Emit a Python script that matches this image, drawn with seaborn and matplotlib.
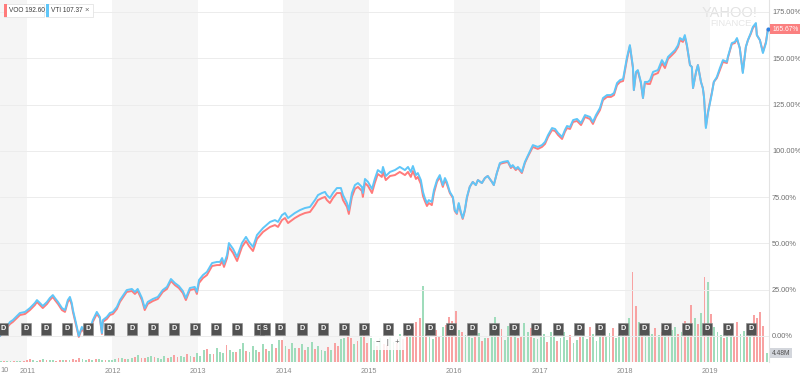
import datetime as dt

import matplotlib
matplotlib.use("Agg")
import matplotlib.pyplot as plt
import matplotlib.transforms as mtransforms
from matplotlib.patches import Rectangle
import pandas as pd
import seaborn as sns

# % change since Sep 2010 (VTI = blue, VOO = red)
price_dates = [
    "2010-09-07", "2010-10-20", "2010-11-01", "2010-12-01", "2010-12-23",
    "2011-01-13", "2011-02-03", "2011-02-12", "2011-02-25", "2011-03-09", "2011-03-27",
    "2011-04-08", "2011-04-21", "2011-04-30", "2011-05-13", "2011-05-30", "2011-06-12",
    "2011-06-24", "2011-07-03", "2011-07-11", "2011-07-16", "2011-07-29", "2011-08-10",
    "2011-08-23", "2011-09-01", "2011-09-14", "2011-09-26", "2011-10-09", "2011-10-26",
    "2011-11-08", "2011-11-17", "2011-11-21", "2011-12-08", "2011-12-21",
    "2012-01-03", "2012-01-20", "2012-02-02", "2012-03-02", "2012-03-24", "2012-04-06",
    "2012-04-18", "2012-05-06", "2012-05-18", "2012-05-31", "2012-06-22", "2012-07-13",
    "2012-08-03", "2012-08-21", "2012-09-07", "2012-09-24", "2012-10-11", "2012-10-28",
    "2012-11-10", "2012-11-27", "2012-12-18", "2012-12-27",
    "2013-01-05", "2013-01-22", "2013-02-08", "2013-03-02", "2013-03-23", "2013-04-05",
    "2013-04-14", "2013-04-22", "2013-05-05", "2013-05-13", "2013-05-31", "2013-06-17",
    "2013-07-08", "2013-07-25", "2013-08-07", "2013-08-24", "2013-09-10", "2013-10-06",
    "2013-11-05", "2013-11-26", "2013-12-09", "2013-12-26",
    "2014-01-08", "2014-01-21", "2014-02-07", "2014-02-19", "2014-03-13", "2014-04-03",
    "2014-04-25", "2014-05-16", "2014-05-29", "2014-06-15", "2014-06-28", "2014-07-06",
    "2014-07-19", "2014-08-01", "2014-08-18", "2014-09-04", "2014-09-13", "2014-09-30",
    "2014-10-08", "2014-10-21", "2014-11-03", "2014-11-16", "2014-12-03", "2014-12-07",
    "2014-12-16", "2014-12-29",
    "2015-01-15", "2015-01-27", "2015-02-09", "2015-02-26", "2015-03-03", "2015-03-15",
    "2015-04-02", "2015-04-23", "2015-05-14", "2015-06-05", "2015-06-18", "2015-06-30",
    "2015-07-09", "2015-07-22", "2015-07-30", "2015-08-12", "2015-08-21", "2015-08-29",
    "2015-09-07", "2015-09-15", "2015-09-28", "2015-10-07", "2015-10-20", "2015-11-01",
    "2015-11-14", "2015-11-23", "2015-12-01", "2015-12-14", "2015-12-27",
    "2016-01-04", "2016-01-13", "2016-01-21", "2016-01-30", "2016-02-07", "2016-02-16",
    "2016-02-25", "2016-03-08", "2016-03-21", "2016-04-03", "2016-04-12", "2016-04-29",
    "2016-05-12", "2016-05-24", "2016-06-11", "2016-06-19", "2016-07-02", "2016-07-15",
    "2016-07-28", "2016-08-18", "2016-08-31", "2016-09-08", "2016-09-21", "2016-09-30",
    "2016-10-17", "2016-10-30", "2016-11-11", "2016-12-03", "2016-12-24",
    "2017-01-11", "2017-01-24", "2017-02-06", "2017-02-23", "2017-03-08", "2017-03-21",
    "2017-04-07", "2017-04-19", "2017-04-28", "2017-05-11", "2017-05-24", "2017-06-10",
    "2017-06-27", "2017-07-14", "2017-08-04", "2017-08-17", "2017-08-30", "2017-09-16",
    "2017-09-29", "2017-10-16", "2017-11-02", "2017-11-15", "2017-11-28", "2017-12-11",
    "2017-12-24",
    "2018-01-02", "2018-01-09", "2018-01-22", "2018-02-04", "2018-02-08", "2018-02-17",
    "2018-02-25", "2018-03-10", "2018-03-19", "2018-03-27", "2018-04-09", "2018-04-18",
    "2018-05-01", "2018-05-22", "2018-06-08", "2018-06-21", "2018-07-04", "2018-07-21",
    "2018-08-03", "2018-08-16", "2018-08-24", "2018-09-06", "2018-09-14", "2018-09-23",
    "2018-10-06", "2018-10-14", "2018-10-19", "2018-11-01", "2018-11-09", "2018-11-22",
    "2018-11-30", "2018-12-05", "2018-12-13", "2018-12-22",
    "2019-01-08", "2019-01-16", "2019-01-29", "2019-02-11", "2019-02-24", "2019-03-13",
    "2019-03-17", "2019-04-03", "2019-04-16", "2019-04-25", "2019-05-07", "2019-05-20",
    "2019-06-02", "2019-06-11", "2019-06-23", "2019-07-02", "2019-07-15", "2019-07-19",
    "2019-08-01", "2019-08-14", "2019-08-27", "2019-09-04",
]

vti_pct = [
    0.0, 7.6, 8.6, 12.4, 13.0,
    15.1, 17.8, 19.4, 17.8, 16.2, 18.4, 20.5, 22.1, 20.5, 18.4, 15.1, 14.0,
    19.4, 21.1, 17.8, 14.0, 7.0, 0.0, 4.9, 3.2, 1.6, 3.2, 8.6, 13.0,
    10.3, 1.6, 8.6, 10.3, 12.4,
    13.0, 15.7, 19.4, 24.8, 25.4, 23.8, 25.4, 20.5, 15.1, 18.4, 20.0, 21.1,
    24.8, 26.5, 30.8, 28.6, 27.0, 24.3, 20.5, 25.9, 26.5, 23.8,
    30.2, 32.9, 34.6, 39.4, 40.0, 40.0, 42.1, 38.9, 43.7, 50.2, 47.0, 42.7,
    50.2, 53.5, 50.8, 48.1, 54.5, 58.3, 61.6, 62.6, 61.6, 65.3,
    66.4, 63.7, 65.3, 66.4, 68.0, 69.1, 69.7, 73.4, 76.1, 77.2, 77.8, 76.1,
    74.5, 77.2, 79.9, 79.9, 76.1, 71.8, 68.0, 77.2, 81.5, 82.6, 80.5, 77.2,
    84.8, 83.2,
    79.4, 84.8, 89.6, 88.0, 91.3, 86.4, 88.6, 89.6, 91.3, 89.6, 91.3, 88.6,
    91.8, 86.9, 88.0, 84.2, 77.8, 74.5, 71.8, 73.4, 72.4, 78.8, 84.2, 86.9,
    81.5, 85.3, 83.2, 77.8, 75.1,
    68.0, 66.4, 71.8, 67.0, 63.7, 68.0, 75.1, 80.5, 83.2, 81.5, 84.2, 82.6,
    85.3, 86.4, 83.2, 81.5, 88.0, 93.4, 94.0, 94.5, 91.3, 92.3, 90.2, 91.3,
    88.6, 94.0, 97.2, 103.1, 102.1,
    103.1, 104.8, 108.5, 112.3, 111.8, 109.6, 107.5, 111.2, 113.4, 112.9, 116.6, 117.2,
    115.0, 119.3, 118.3, 115.6, 119.3, 123.1, 128.5, 130.1, 130.1, 131.2, 136.6, 138.2,
    138.8,
    145.3, 150.1, 157.1, 145.3, 132.8, 142.6, 143.6, 137.2, 128.5, 137.2, 137.2, 138.2,
    142.6, 143.6, 149.0, 146.3, 150.7, 152.8, 154.4, 157.1, 160.9, 159.8, 162.5, 157.1,
    146.3, 145.3, 133.9, 142.6, 146.3, 137.2, 133.9, 129.1, 112.3, 120.4,
    131.2, 137.2, 139.9, 144.7, 149.0, 148.0, 150.7, 158.2, 158.8, 160.9, 155.5, 142.0,
    156.1, 159.8, 163.6, 166.9, 169.0, 162.5, 159.8, 152.8, 158.2, 165.2,
]

voo_pct = [
    0.0, 6.5, 7.6, 11.3, 11.9,
    14.0, 16.7, 18.4, 16.7, 15.1, 17.3, 19.4, 21.1, 19.4, 17.3, 14.0, 13.0,
    18.4, 20.0, 16.7, 13.0, 5.9, -0.5, 3.8, 2.2, 1.1, 2.7, 7.6, 11.9,
    9.7, 1.1, 7.6, 9.2, 11.3,
    11.9, 14.6, 18.4, 23.8, 24.3, 22.7, 24.3, 19.4, 14.0, 17.3, 18.9, 20.0,
    23.8, 25.4, 29.7, 27.5, 25.9, 23.2, 19.4, 24.8, 25.4, 22.7,
    28.6, 31.3, 32.9, 37.8, 38.3, 38.3, 40.5, 37.3, 42.1, 48.1, 44.8, 40.5,
    48.1, 51.3, 48.6, 45.9, 52.4, 56.2, 58.9, 59.9, 58.9, 62.6,
    63.7, 61.0, 62.6, 63.7, 65.3, 66.4, 67.0, 70.7, 73.4, 74.5, 75.1, 73.4,
    71.8, 74.5, 77.2, 77.2, 73.4, 69.7, 65.9, 75.1, 79.4, 80.5, 78.3, 75.1,
    82.6, 81.0,
    77.2, 82.6, 87.5, 85.9, 88.6, 84.2, 86.4, 86.9, 88.6, 86.9, 88.6, 85.9,
    89.1, 84.8, 85.9, 82.1, 75.6, 72.9, 70.2, 71.8, 70.7, 77.2, 83.2, 85.9,
    80.5, 84.2, 82.1, 77.2, 74.5,
    67.5, 65.9, 71.3, 66.4, 63.2, 67.5, 74.5, 80.5, 83.2, 81.5, 84.2, 82.6,
    85.3, 86.4, 83.2, 81.5, 88.0, 92.9, 93.4, 94.0, 90.7, 91.8, 89.6, 90.7,
    88.0, 93.4, 96.7, 102.1, 101.0,
    102.1, 103.7, 107.5, 111.2, 110.7, 108.5, 106.4, 110.2, 112.3, 111.8, 115.6, 116.1,
    113.9, 118.3, 117.2, 114.5, 118.3, 122.0, 127.4, 129.1, 129.1, 130.1, 135.5, 137.2,
    137.7,
    144.2, 149.0, 156.6, 144.7, 132.8, 142.0, 143.1, 136.6, 128.5, 136.6, 136.1, 136.1,
    140.9, 142.0, 147.4, 144.7, 149.6, 151.7, 153.4, 156.1, 159.8, 158.8, 161.5, 156.6,
    146.3, 145.3, 133.9, 142.6, 146.3, 137.2, 133.9, 129.1, 112.9, 121.0,
    131.8, 137.2, 139.3, 143.6, 148.0, 147.4, 150.1, 157.7, 158.2, 160.4, 155.5, 142.6,
    156.1, 159.8, 163.1, 166.3, 168.5, 162.5, 159.8, 153.4, 158.8, 165.67,
]

# volume (millions), one bar every two weeks starting 2010-09-10
vol_start = "2010-09-10"
volume = [
    0.4, 0.5, 0.3, 0.6, 0.5, 0.4, 0.7, 0.5,
    0.8, 1.6, 0.9, 0.7, 1.1, 1.3, 0.8, 0.9, 1.0, 0.7, 0.9, 1.2, 1.0,
    0.8, 1.4, 1.1, 1.8, 1.5, 1.2, 1.3, 1.0, 1.4, 1.6, 1.1, 1.0, 0.9,
    1.2, 1.5, 1.8, 2.2, 1.6, 1.4, 2.0, 2.6, 3.4, 2.1, 1.9, 2.3, 2.8,
    2.4, 2.0, 1.7, 3.0, 2.2, 2.6, 3.5, 2.4, 3.1, 2.7, 3.8, 2.9, 2.5,
    4.5, 3.2, 5.8, 6.5, 4.1, 3.8, 7.2, 5.0, 4.4, 8.5, 6.0, 5.2, 4.8,
    6.6, 9.5, 5.5, 4.9, 7.8, 6.2, 5.1, 8.8, 6.4, 5.6, 9.2, 7.0, 10.8,
    11.2, 8.0, 6.5, 9.4, 7.2, 6.8, 8.8, 5.9, 7.5, 10.2, 6.4, 7.9, 6.1,
    5.5, 7.3, 6.0, 9.6, 8.2, 11.5, 12.0, 16.5, 12.2, 9.0, 10.5, 15.0, 13.6,
    9.5, 12.0, 10.4, 8.1, 11.8, 9.0, 8.6, 12.4, 10.0, 9.3, 13.8, 11.5, 15.0,
    12.6, 17.6, 20.0, 22.0, 38.0, 14.2, 13.0, 11.6, 16.0, 12.8, 17.5, 18.5, 22.5,
    20.5, 25.5, 16.0, 15.2, 13.5, 16.8, 11.8, 13.0, 14.5, 10.6, 12.2, 12.0, 15.6,
    22.5, 13.8, 16.4, 11.0, 17.8, 12.5, 14.6, 11.8, 13.2, 19.5, 15.2, 17.0, 12.0,
    11.5, 13.0, 14.2, 9.8, 15.0, 12.6, 10.4, 12.0, 14.8, 11.2, 13.6, 9.6, 10.8,
    12.5, 15.6, 11.4, 17.5, 14.0, 10.6, 13.2, 15.8, 12.4, 14.6, 16.8, 12.0, 14.0,
    18.0, 16.0, 22.0, 45.0, 28.0, 20.0, 16.5, 18.8, 15.6, 14.2, 17.2, 13.4, 15.0,
    16.2, 14.0, 15.8, 17.6, 13.8, 15.2, 20.5, 19.0, 28.5, 22.0, 19.0, 24.5, 42.5,
    40.0, 24.0, 17.5, 15.2, 13.6, 12.0, 14.5, 16.8, 12.6, 20.0, 14.0, 15.5, 13.2,
    17.0, 23.5, 22.0, 25.0, 18.0, 4.48,
]
# g = up week, r = down week
vol_dir = (
    "grggrggr"
    "rrggrgrggrrgr" "grrrggrgrggrg"
    "ggrgrggrgrrgg" "rgggrgrrggrgr"
    "gggrgrgggrggr" "ggrgggrgrggrg"
    "rgrggrgrggrgg" "grgrrggrrgrgr"
    "rggrgrrggrgrr" "grrrgrggrrgrr"
    "rrgrgggrgrgrg" "grrggrgrrggrg"
    "gggrggrgggrgg" "rggrgggrggrgg"
    "grgrrgrgggrgr" "grggrgrgrgrgr"
    "grgggrggrrggr" "grrrrg"
)

div_dates = [
    "2010-09-20", "2010-12-27", "2011-03-22", "2011-06-20", "2011-09-18", "2011-12-17",
    "2012-03-24", "2012-06-22", "2012-09-19", "2012-12-18", "2013-03-19", "2013-06-17",
    "2013-09-19", "2013-12-18", "2014-03-21", "2014-06-19", "2014-09-17", "2014-12-12",
    "2015-03-24", "2015-06-18", "2015-09-20", "2015-12-18", "2016-03-17", "2016-06-19",
    "2016-09-13", "2016-12-16", "2017-03-21", "2017-06-18", "2017-09-16", "2017-12-24",
    "2018-03-23", "2018-06-25", "2018-09-23", "2018-12-18", "2019-03-17", "2019-06-23",
]
split_date = "2013-10-14"

years = list(range(2011, 2020))
y_ticks = [0, 25, 50, 75, 100, 125, 150, 175]
legend_items = [("VOO", "192.60"), ("VTI", "107.37")]

voo_color = "#ff7b7b"
vti_color = "#5fc6f8"
band_color = "#f5f5f5"

sns.set_style("white")
plt.rcParams["font.family"] = ["Liberation Sans", "DejaVu Sans"]

fig = plt.figure(figsize=(8, 3.8), dpi=100)
fig.patch.set_facecolor("white")
pos = [0, 18 / 380, 769 / 800, 362 / 380]

# volume axes (behind)
ax_vol = fig.add_axes(pos)
ax_vol.axis("off")
x_left = pd.Timestamp("2010-09-07")
x_right = pd.Timestamp("2019-09-09")

ax_vol.axvspan(x_left, pd.Timestamp("2011-01-01"), color=band_color, lw=0, zorder=0)
for y in [2012, 2014, 2016, 2018]:
    ax_vol.axvspan(pd.Timestamp(y, 1, 1), pd.Timestamp(y + 1, 1, 1), color=band_color, lw=0, zorder=0)

vol_dates = pd.date_range(vol_start, periods=len(volume), freq="14D")
bar_cols = ["#9fdcbb" if c == "g" else "#f8a2a2" for c in vol_dir]
ax_vol.bar(vol_dates, volume, width=8, color=bar_cols, linewidth=0, zorder=2)
ax_vol.set_ylim(0, 181)
ax_vol.set_xlim(x_left, x_right)

# watermark
ax_vol.text(730 / 800, 1 - 13 / 380, "YAHOO!", transform=fig.transFigure, ha="center", va="center",
            fontsize=10.5, color="#e3e3e3", zorder=1)
ax_vol.text(731 / 800, 1 - 23.5 / 380, "FINANCE", transform=fig.transFigure, ha="center", va="center",
            fontsize=6.8, color="#e6e6e6", zorder=1)

# price axes (on top)
ax = fig.add_axes(pos, sharex=ax_vol)
ax.patch.set_alpha(0)
for v in y_ticks:
    ax.axhline(v, color="#ececec", lw=0.7, zorder=0)

df = pd.DataFrame({"date": pd.to_datetime(price_dates), "VOO": voo_pct, "VTI": vti_pct})
long = df.melt(id_vars="date", var_name="fund", value_name="pct")
sns.lineplot(data=long, x="date", y="pct", hue="fund", hue_order=["VOO", "VTI"],
             palette={"VOO": voo_color, "VTI": vti_color}, lw=1.4, legend=False, ax=ax, zorder=3)

ax.scatter([df["date"].iloc[-1]], [voo_pct[-1]], s=9, color="#2f80e0", zorder=7, linewidths=0)

# dividend / split markers
for d in div_dates:
    ax.text(pd.Timestamp(d), 3.8, "D", ha="center", va="center", fontsize=5.2, color="white",
            fontweight="bold", zorder=6,
            bbox=dict(boxstyle="square,pad=0.32", fc="#525252", ec="#8a8a8a", lw=0.4))
ax.text(pd.Timestamp(split_date), 3.8, "S", ha="center", va="center", fontsize=5.2, color="white",
        fontweight="bold", zorder=6,
        bbox=dict(boxstyle="square,pad=0.32", fc="#525252", ec="#8a8a8a", lw=0.4))

ax.set_xlim(x_left, x_right)
ax.set_ylim(-14.04, 181.44)
ax.yaxis.tick_right()
ax.set_yticks(y_ticks)
ax.set_yticklabels([f"{v:.2f}%" for v in y_ticks])
ax.set_xticks([pd.Timestamp(y, 1, 1) for y in years])
ax.set_xticklabels([str(y) for y in years])
ax.tick_params(axis="y", length=0, pad=2.2, labelsize=5.3, labelcolor="#6f6f6f")
ax.tick_params(axis="x", length=2.5, width=0.6, color="#cccccc", pad=1.5, labelsize=5.3,
               labelcolor="#8a8a8a")
ax.set_xlabel("")
ax.set_ylabel("")
for side in ["top", "left", "bottom"]:
    ax.spines[side].set_visible(False)
ax.spines["right"].set_color("#e3e3e3")
ax.spines["right"].set_linewidth(0.8)

# tail of the 2010 label, as it shows at the left edge
fig.text(0.5 / 800, 1 - 371 / 380, "10", ha="left", va="center", fontsize=5.3, color="#8a8a8a")

# last value labels
blend = mtransforms.blended_transform_factory(ax.transAxes, ax.transData)
ax.text(1.004, voo_pct[-1], f"{voo_pct[-1]:.2f}%", transform=blend, ha="left", va="center",
        fontsize=4.8, color="white", zorder=8, clip_on=False,
        bbox=dict(boxstyle="square,pad=0.25", fc="#fb8080", ec="none"))
blend_v = mtransforms.blended_transform_factory(ax_vol.transAxes, ax_vol.transData)
ax_vol.text(1.004, volume[-1], f"{volume[-1]:.2f}M", transform=blend_v, ha="left", va="center",
            fontsize=4.8, color="#505050", zorder=8, clip_on=False,
            bbox=dict(boxstyle="square,pad=0.25", fc="#d3d6dc", ec="none"))

# legend chips top-left
def chip(x0, x1, color, name, value, close=False):
    fig.add_artist(Rectangle((x0 / 800, 1 - 17 / 380), (x1 - x0) / 800, 13 / 380,
                             transform=fig.transFigure, fc="white", ec="#e4e4e4", lw=0.6, zorder=10))
    fig.add_artist(Rectangle((x0 / 800, 1 - 17 / 380), 2.5 / 800, 13 / 380,
                             transform=fig.transFigure, fc=color, ec="none", zorder=11))
    fig.text((x0 + 5) / 800, 1 - 10.5 / 380, f"{name} {value}", ha="left", va="center",
             fontsize=4.7, color="#3a3a3a", zorder=12)
    if close:
        fig.text((x1 - 6) / 800, 1 - 10.5 / 380, "×", ha="center", va="center",
                 fontsize=5.5, color="#666666", zorder=12)

chip(4, 44, voo_color, *legend_items[0])
chip(46, 93, vti_color, *legend_items[1], close=True)

# zoom buttons
fig.text(388 / 800, 1 - 343 / 380, "−   |   +", ha="center", va="center", fontsize=5.5,
         color="#555555", zorder=10,
         bbox=dict(boxstyle="square,pad=0.5", fc="white", ec="none", alpha=0.85))

fig.savefig("out.png", dpi=100)
